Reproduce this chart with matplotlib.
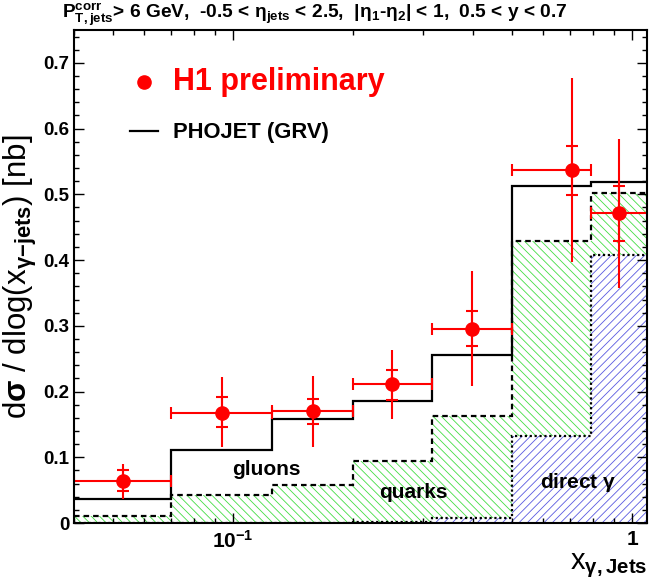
import numpy as np, matplotlib
matplotlib.use('Agg')
import matplotlib.pyplot as plt
from matplotlib.lines import Line2D
from matplotlib.ticker import FixedLocator, NullFormatter, MultipleLocator, FuncFormatter

plt.rcParams.update({'font.family': 'Liberation Sans', 'font.weight': 'bold',
                     'mathtext.fontset': 'custom', 'mathtext.rm': 'Liberation Sans:bold',
                     'mathtext.bf': 'Liberation Sans:bold', 'mathtext.it': 'Liberation Sans:bold',
                     'mathtext.default': 'bf', 'axes.linewidth': 1.5, 'hatch.linewidth': 0.6})

# bin edges in x_gamma
edges = [0.04, 0.07, 0.125, 0.2, 0.315, 0.5, 0.79, 1.09]
# PHOJET (GRV) predictions
phojet_total = [0.036, 0.111, 0.158, 0.185, 0.255, 0.512, 0.519]
phojet_quark_direct = [0.010, 0.043, 0.058, 0.094, 0.163, 0.429, 0.502]
phojet_direct = [0.0, 0.0, 0.0, 0.002, 0.007, 0.132, 0.407]
# H1 preliminary data
x_data = [0.053, 0.094, 0.159, 0.250, 0.397, 0.707, 0.928]
y_data = [0.064, 0.168, 0.170, 0.211, 0.295, 0.537, 0.471]
stat_up = [0.016, 0.023, 0.018, 0.022, 0.027, 0.037, 0.042]
stat_dn = [0.016, 0.022, 0.020, 0.024, 0.026, 0.038, 0.042]
tot_up = [0.025, 0.054, 0.053, 0.052, 0.088, 0.140, 0.113]
tot_dn = [0.027, 0.053, 0.055, 0.053, 0.086, 0.140, 0.114]

e = np.array(edges)
q = np.array(phojet_quark_direct); d = np.array(phojet_direct)
xd = np.array(x_data)

fig = plt.figure(figsize=(6.49, 5.85), dpi=100)
ax = fig.add_axes([74/649, 62/585, 573/649, 493/585])
ax.set_xscale('log')

# hatched contributions
ax.bar(e[:-1], q - d, width=np.diff(e), bottom=d, align='edge', fill=False,
       edgecolor='#44dd44', hatch='\\\\\\\\', linewidth=0)
ax.bar(e[:-1], d, width=np.diff(e), align='edge', fill=False,
       edgecolor='#5a5ae0', hatch='////', linewidth=0)

ax.stairs(phojet_direct, edges, baseline=None, color='k', lw=1.6, ls=(0, (1, 1.2)))
ax.stairs(phojet_quark_direct, edges, baseline=None, color='k', lw=1.6, ls=(0, (2.5, 1.8)))
ax.stairs(phojet_total, edges, baseline=None, color='k', lw=1.6)

red = '#ff0000'
ax.errorbar(xd, y_data, xerr=[xd - e[:-1], e[1:] - xd], fmt='none', ecolor=red,
            elinewidth=1.5, capsize=4.5, capthick=1.5)
ax.errorbar(xd, y_data, yerr=[tot_dn, tot_up], fmt='none', ecolor=red, elinewidth=1.5)
ax.errorbar(xd, y_data, yerr=[stat_dn, stat_up], fmt='o', color=red, ms=9.5,
            ecolor=red, elinewidth=1.5, capsize=4.5, capthick=1.5)

ax.text(0.121, 0.081, 'gluons', fontsize=15, ha='center', va='center')
ax.text(0.284, 0.046, 'quarks', fontsize=15, ha='center', va='center')
ax.text(0.733, 0.062, r'direct $\gamma$', fontsize=15, ha='center', va='center')

ax.set_xlim(edges[0], edges[-1])
ax.set_ylim(0, 0.75)
ax.xaxis.set_major_locator(FixedLocator([0.1, 1.0]))
ax.set_xticklabels([r'$10^{-1}$', '1'])
ax.xaxis.set_minor_locator(FixedLocator([0.04, 0.05, 0.06, 0.07, 0.08, 0.09,
                                         0.2, 0.3, 0.4, 0.5, 0.6, 0.7, 0.8, 0.9]))
ax.xaxis.set_minor_formatter(NullFormatter())
ax.yaxis.set_major_locator(MultipleLocator(0.1))
ax.yaxis.set_minor_locator(MultipleLocator(0.02))
ax.yaxis.set_major_formatter(FuncFormatter(lambda v, p: f'{v:g}'))
ax.tick_params(which='both', direction='in', top=True, right=True, labelsize=13.5, width=1)
ax.tick_params(which='major', length=7)
ax.tick_params(which='minor', length=3.8)
ax.tick_params(axis='x', pad=5, labelsize=15)

ax.set_ylabel(r'd$\sigma$ / dlog(x$_{\gamma\mathrm{-}jets}$) [nb]', fontsize=22.5, labelpad=3)
ax.set_xlabel(r'x$_{\gamma,\mathrm{Jets}}$', fontsize=21, loc='right', labelpad=0)

handles = [Line2D([], [], marker='o', color=red, ls='none', ms=9.5),
           Line2D([], [], color='k', lw=1.6)]
leg = ax.legend(handles, ['H1 preliminary', 'PHOJET (GRV)'], loc='upper left',
                bbox_to_anchor=(0.098, 0.925), frameon=False, fontsize=15.8,
                handlelength=1.27, handletextpad=0.68, borderpad=0, borderaxespad=0,
                labelspacing=1.15)
leg.get_texts()[0].set_color(red)
leg.get_texts()[0].set_fontsize(22)

fig.text(62/649, 1 - 18/585,
         r'P$_{T,jets}^{corr}$> 6 GeV,  -0.5 < $\eta_{jets}$ < 2.5,  |$\eta_1$-$\eta_2$| < 1,  0.5 < y < 0.7',
         fontsize=13.8, ha='left', va='baseline')

fig.savefig('out.png', dpi=100)
